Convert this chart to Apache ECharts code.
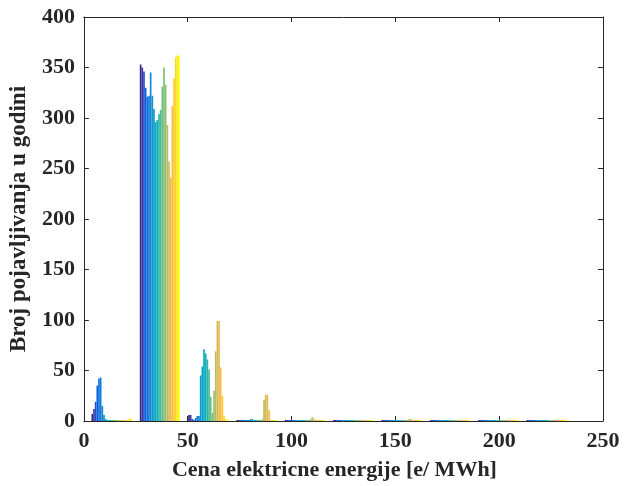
<!DOCTYPE html>
<html>
<head>
<meta charset="utf-8">
<script src="https://cdn.jsdelivr.net/npm/echarts@6/dist/echarts.min.js"></script>
<style>html,body{margin:0;padding:0;background:#fff}#c{width:635px;height:486px}</style>
</head>
<body>
<div id="c"></div>
<script>
// Histogram bin centres (x, e/MWh)
const binCenters = [13.3, 36.58, 59.86, 83.14, 106.42, 129.7, 152.98, 176.26, 199.54, 222.82];
// Counts per bin, one value per hour series (24 series, left to right)
const bin1  = [7, 12, 19, 35, 42, 43, 15, 6, 2, 1, 0, 0, 0, 0, 0, 0, 0, 0, 0, 0, 0, 1, 2, 3];
const bin2  = [353, 350, 346, 330, 321, 322, 345, 322, 309, 296, 298, 304, 308, 331, 350, 333, 293, 257, 241, 312, 339, 360, 362, 362];
const bin3  = [6, 6, 2, 1, 3, 5, 5, 45, 54, 71, 67, 61, 51, 24, 8, 30, 69, 99, 99, 53, 25, 5, 2, 1];
const bin4  = [0, 0, 0, 0, 0, 0, 0, 0, 2, 2, 1, 1, 1, 1, 1, 2, 21, 26, 26, 11, 1, 0, 0, 0];
const bin5  = [0, 0, 0, 0, 0, 0, 0, 0, 0, 0, 0, 0, 0, 0, 0, 2, 4, 2, 1, 0, 0, 0, 0, 0];
const bin6  = [0, 0, 0, 0, 0, 0, 0, 0, 0, 0, 0, 0, 0, 0, 0, 0, 1, 1, 1, 1, 0, 0, 0, 0];
const bin7  = [0, 0, 0, 0, 0, 0, 0, 0, 0, 0, 0, 0, 0, 0, 0, 0, 2, 2, 1, 0, 0, 0, 0, 0];
const bin8  = [0, 0, 0, 0, 0, 0, 0, 0, 0, 0, 0, 0, 0, 0, 0, 0, 0, 0, 0, 0, 0, 0, 0, 0];
const bin9  = [0, 0, 0, 0, 0, 0, 0, 0, 0, 0, 0, 0, 0, 0, 0, 0, 0, 1, 1, 0, 0, 0, 0, 0];
const bin10 = [0, 0, 0, 0, 0, 0, 0, 0, 0, 0, 0, 0, 0, 0, 0, 0, 0, 1, 1, 0, 0, 0, 0, 0];
const xTicks = [0, 50, 100, 150, 200, 250];
const yTicks = [0, 50, 100, 150, 200, 250, 300, 350, 400];

const bins = [bin1, bin2, bin3, bin4, bin5, bin6, bin7, bin8, bin9, bin10];
const nSeries = bin1.length;

// parula colormap (64 rows)
const parula = [
[0.2081,0.1663,0.5292],[0.2116,0.1898,0.5777],[0.2123,0.2138,0.6270],[0.2081,0.2386,0.6771],
[0.1959,0.2645,0.7279],[0.1707,0.2919,0.7792],[0.1253,0.3242,0.8303],[0.0591,0.3598,0.8683],
[0.0117,0.3875,0.8820],[0.0060,0.4086,0.8828],[0.0165,0.4266,0.8786],[0.0329,0.4430,0.8720],
[0.0498,0.4586,0.8641],[0.0629,0.4737,0.8554],[0.0723,0.4887,0.8467],[0.0779,0.5040,0.8384],
[0.0793,0.5200,0.8312],[0.0749,0.5375,0.8263],[0.0641,0.5570,0.8240],[0.0488,0.5772,0.8228],
[0.0343,0.5966,0.8199],[0.0265,0.6137,0.8135],[0.0239,0.6287,0.8038],[0.0231,0.6418,0.7913],
[0.0228,0.6535,0.7768],[0.0267,0.6642,0.7607],[0.0384,0.6743,0.7436],[0.0590,0.6838,0.7254],
[0.0843,0.6928,0.7062],[0.1133,0.7015,0.6859],[0.1453,0.7098,0.6646],[0.1801,0.7177,0.6424],
[0.2178,0.7250,0.6193],[0.2586,0.7317,0.5954],[0.3022,0.7376,0.5712],[0.3482,0.7424,0.5473],
[0.3953,0.7459,0.5244],[0.4420,0.7481,0.5033],[0.4871,0.7491,0.4840],[0.5300,0.7491,0.4661],
[0.5709,0.7485,0.4494],[0.6099,0.7473,0.4337],[0.6473,0.7456,0.4188],[0.6834,0.7435,0.4044],
[0.7184,0.7411,0.3905],[0.7525,0.7384,0.3768],[0.7858,0.7356,0.3633],[0.8185,0.7327,0.3498],
[0.8507,0.7299,0.3360],[0.8824,0.7274,0.3217],[0.9139,0.7258,0.3063],[0.9450,0.7261,0.2886],
[0.9739,0.7314,0.2666],[0.9938,0.7455,0.2403],[0.9990,0.7653,0.2164],[0.9955,0.7861,0.1967],
[0.9880,0.8066,0.1794],[0.9789,0.8271,0.1633],[0.9697,0.8481,0.1475],[0.9626,0.8705,0.1309],
[0.9589,0.8949,0.1132],[0.9598,0.9218,0.0948],[0.9661,0.9514,0.0755],[0.9763,0.9831,0.0538]];
function cmap(k, n){
  const idx = Math.min(63, Math.floor(k/(n-1)*64));
  const c = parula[idx].map(v => Math.round(v*255));
  return 'rgb(' + c.join(',') + ')';
}

const font = "'Liberation Serif','Times New Roman',serif";
const axisColor = '#262626';

const series = [];
for (let k = 0; k < nSeries; k++) {
  series.push({
    type: 'bar',
    name: 'h' + (k+1),
    data: bins.map((b, i) => [binCenters[i], b[k]]),
    itemStyle: { color: cmap(k, nSeries) },
    barGap: '0%',
    barCategoryGap: '17%',
    barMinHeight: 1,
    animation: false
  });
}

const chart = echarts.init(document.getElementById('c'), null, {renderer: 'canvas'});
chart.setOption({
  animation: false,
  grid: { left: 83, right: 32, top: 17, bottom: 64, show: false },
  xAxis: [{
    type: 'value', min: 0, max: 250, interval: 50,
    axisLine: { show: true, lineStyle: { color: axisColor, width: 1 } },
    axisTick: { show: true, inside: true, length: 5, lineStyle: { color: axisColor } },
    splitLine: { show: false },
    axisLabel: { fontFamily: font, fontWeight: 'bold', fontSize: 22, color: axisColor, margin: 9,
      formatter: v => xTicks.indexOf(v) >= 0 ? String(v) : '' },
    name: 'Cena elektricne energije [e/ MWh]', nameLocation: 'middle', nameGap: 38,
    nameTextStyle: { fontFamily: font, fontWeight: 'bold', fontSize: 22, color: axisColor, padding: [0, 18, 0, 0] }
  }, {
    type: 'value', min: 0, max: 250, interval: 50, position: 'top',
    axisLine: { show: true, onZero: false, lineStyle: { color: axisColor, width: 1 } },
    axisTick: { show: true, inside: true, length: 5, lineStyle: { color: axisColor } },
    axisLabel: { show: false }, splitLine: { show: false }
  }],
  yAxis: [{
    type: 'value', min: 0, max: 400, interval: 50,
    axisLine: { show: true, lineStyle: { color: axisColor, width: 1 } },
    axisTick: { show: true, inside: true, length: 5, lineStyle: { color: axisColor } },
    splitLine: { show: false },
    axisLabel: { fontFamily: font, fontWeight: 'bold', fontSize: 22, color: axisColor, margin: 9,
      formatter: v => yTicks.indexOf(v) >= 0 ? String(v) : '' },
    name: 'Broj pojavljivanja u godini', nameLocation: 'middle', nameGap: 48, nameRotate: 90,
    nameTextStyle: { fontFamily: font, fontWeight: 'bold', fontSize: 23, color: axisColor }
  }, {
    type: 'value', min: 0, max: 400, interval: 50, position: 'right',
    axisLine: { show: true, onZero: false, lineStyle: { color: axisColor, width: 1 } },
    axisTick: { show: true, inside: true, length: 5, lineStyle: { color: axisColor } },
    axisLabel: { show: false }, splitLine: { show: false }
  }],
  series: series
});
</script>
</body>
</html>
